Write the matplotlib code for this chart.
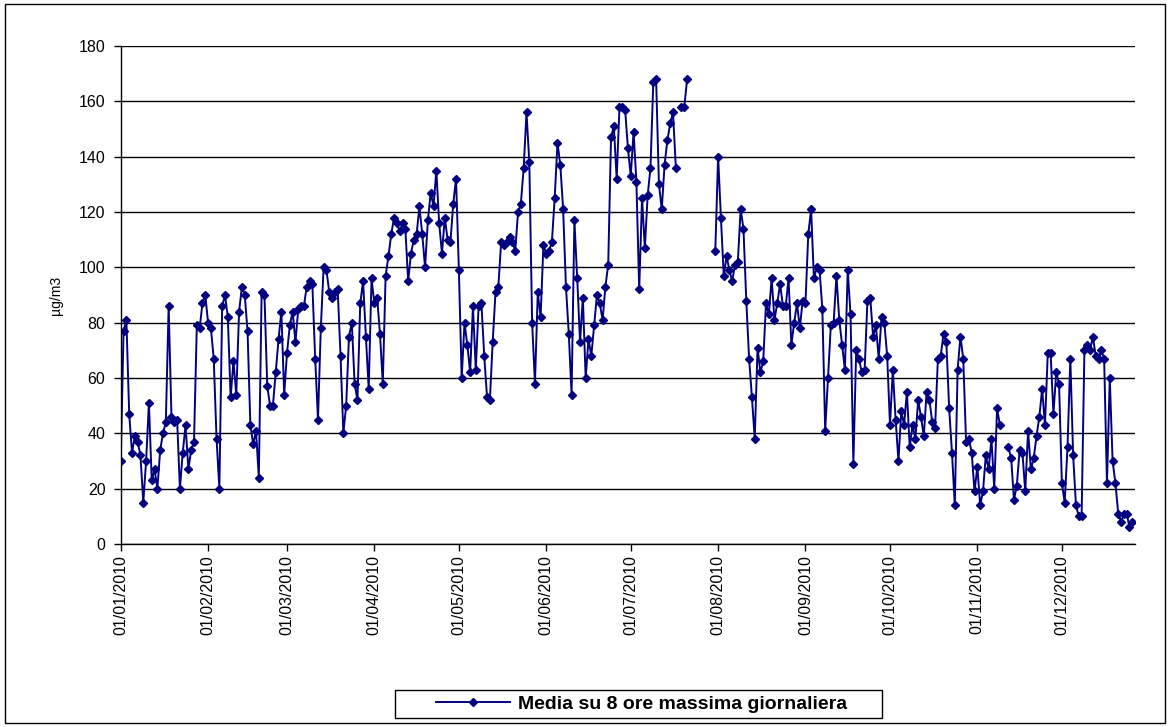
import numpy as np
import pandas as pd
import matplotlib
matplotlib.use("Agg")
import matplotlib.pyplot as plt
import matplotlib.dates as mdates
from matplotlib.patches import Rectangle

nan = np.nan

# daily maximum of the 8-hour running mean, one list per month (µg/m3)
gen = [30, 77, 81, 47, 33, 39, 37, 32, 15, 30, 51, 23, 27, 20, 34, 40, 44, 86, 46, 44,
       45, 20, 33, 43, 27, 34, 37, 79, 78, 87, 90]
feb = [80, 78, 67, 38, 20, 86, 90, 82, 53, 66, 54, 84, 93, 90, 77, 43, 36, 41, 24, 91,
       90, 57, 50, 50, 62, 74, 84, 54]
mar = [69, 79, 84, 73, 85, 86, 86, 93, 95, 94, 67, 45, 78, 100, 99, 91, 89, 91, 92, 68,
       40, 50, 75, 80, 58, 52, 87, 95, 75, 56, 96]
apr = [87, 89, 76, 58, 97, 104, 112, 118, 116, 113, 116, 114, 95, 105, 110, 112, 122, 112, 100, 117,
       127, 122, 135, 116, 105, 118, 110, 109, 123, 132]
mag = [99, 60, 80, 72, 62, 86, 63, 86, 87, 68, 53, 52, 73, 91, 93, 109, 108, 109, 111, 109,
       106, 120, 123, 136, 156, 138, 80, 58, 91, 82, 108]
giu = [105, 106, 109, 125, 145, 137, 121, 93, 76, 54, 117, 96, 73, 89, 60, 74, 68, 79, 90, 87,
       81, 93, 101, 147, 151, 132, 158, 158, 157, 143]
lug = [133, 149, 131, 92, 125, 107, 126, 136, 167, 168, 130, 121, 137, 146, 152, 156, 136, nan, 158, 158,
       168, nan, nan, nan, nan, nan, nan, nan, nan, nan, 106]
ago = [140, 118, 97, 104, 99, 95, 101, 102, 121, 114, 88, 67, 53, 38, 71, 62, 66, 87, 83, 96,
       81, 87, 94, 86, 86, 96, 72, 80, 87, 78, 88]
set_ = [87, 112, 121, 96, 100, 99, 85, 41, 60, 79, 80, 97, 81, 72, 63, 99, 83, 29, 70, 67,
        62, 63, 88, 89, 75, 79, 67, 82, 80, 68]
ott = [43, 63, 45, 30, 48, 43, 55, 35, 43, 38, 52, 46, 39, 55, 52, 44, 42, 67, 68, 76,
       73, 49, 33, 14, 63, 75, 67, 37, 38, 33, 19]
nov = [28, 14, 19, 32, 27, 38, 20, 49, 43, nan, nan, 35, 31, 16, 21, 34, 33, 19, 41, 27,
       31, 39, 46, 56, 43, 69, 69, 47, 62, 58]
dic = [22, 15, 35, 67, 32, 14, 10, 10, 70, 72, 70, 75, 68, 67, 70, 67, 22, 60, 30, 22,
       11, 8, 11, 11, 6, 8]

serie = "Media su 8 ore massima giornaliera"
valori = gen + feb + mar + apr + mag + giu + lug + ago + set_ + ott + nov + dic
giorni = pd.date_range("2010-01-01", periods=len(valori), freq="D")

plt.rcParams["font.family"] = ["Liberation Sans", "DejaVu Sans"]

fig = plt.figure(figsize=(11.7, 7.27), dpi=100)
ax = fig.add_axes([0.1032, 0.2517, 0.867, 0.685])

ax.plot(giorni, valori, color="#000080", lw=1.4, marker="D", ms=4.2,
        mfc="#000080", mec="#000080", label=serie)

ax.set_ylim(0, 180)
ax.set_yticks(np.arange(0, 181, 20))
ax.set_xlim(pd.Timestamp("2010-01-01"), pd.Timestamp("2010-01-01") + pd.Timedelta(days=360))
ax.xaxis.set_major_locator(mdates.MonthLocator())
ax.xaxis.set_major_formatter(mdates.DateFormatter("%d/%m/%Y"))
plt.setp(ax.get_xticklabels(), rotation=90, ha="center")

ax.grid(axis="y", color="black", lw=1.0)
ax.set_axisbelow(True)
ax.spines["right"].set_visible(False)
ax.spines["top"].set_visible(False)
for s in ("left", "bottom"):
    ax.spines[s].set_linewidth(1.0)
ax.tick_params(axis="both", direction="out", length=5, width=1, labelsize=11.5, colors="black")
ax.tick_params(axis="y", pad=6)
ax.tick_params(axis="x", pad=3)
ax.set_ylabel("µg/m3", fontsize=10, labelpad=11)

# legend without its own frame; the box is drawn wider below
leg = fig.legend(loc="center", bbox_to_anchor=(0.5483, 0.0316), frameon=False,
                 prop={"weight": "bold", "size": 14},
                 handlelength=3.8, borderpad=0.3, handletextpad=0.4)
fig.patches.append(Rectangle((0.3376, 0.0124), 0.4162, 0.0385, transform=fig.transFigure,
                             fill=False, edgecolor="black", lw=1.0))

# outer chart border
fig.patches.append(Rectangle((0.004, 0.005), 0.992, 0.99, transform=fig.transFigure,
                             fill=False, edgecolor="black", lw=1.0))

fig.savefig("out.png", dpi=100)
